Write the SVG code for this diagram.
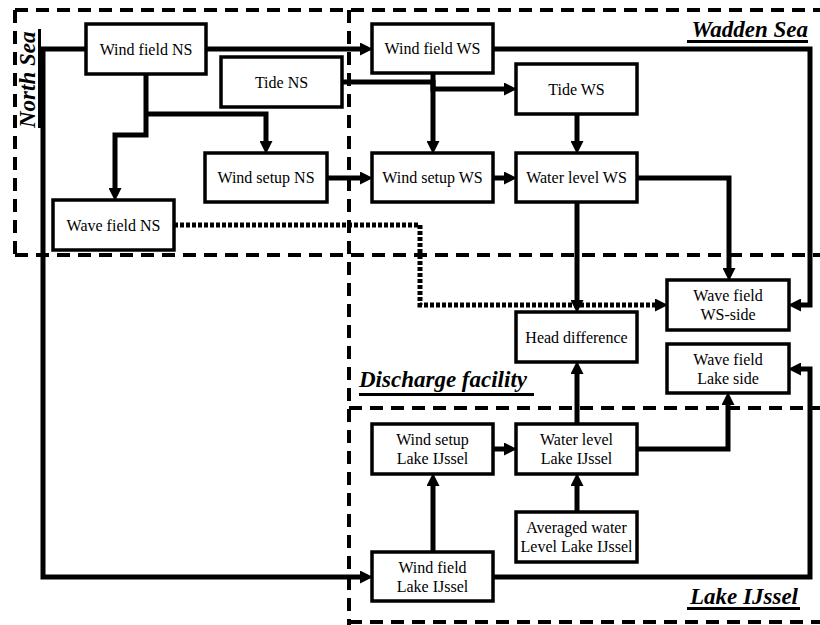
<svg xmlns="http://www.w3.org/2000/svg" width="820" height="625" viewBox="0 0 820 625">
<defs>
<marker id="arr" markerUnits="userSpaceOnUse" markerWidth="13" markerHeight="13" refX="2" refY="6.5" orient="auto">
<path d="M0,0 L13,6.5 L0,13 z" fill="#000"/>
</marker>
<style>
.region{fill:none;stroke:#000;stroke-width:4;stroke-dasharray:13,8}
.box{fill:#fff;stroke:#000;stroke-width:3.5}
.t{font-family:'Liberation Serif','DejaVu Serif',serif;font-size:16px;text-anchor:middle;fill:#000}
.lbl{font-family:'Liberation Serif','DejaVu Serif',serif;font-size:23px;font-weight:bold;font-style:italic;fill:#000}
.ul{stroke:#000;stroke-width:3}
.c{fill:none;stroke:#000;stroke-width:5;stroke-linejoin:miter}
.a{marker-end:url(#arr)}
.dot{stroke-dasharray:4,2}
</style>
</defs>
<rect width="820" height="625" fill="#fff"/>
<g id="regions">
<line class="region" x1="15" y1="10" x2="820" y2="10"/>
<line class="region" x1="15" y1="10" x2="15" y2="255"/>
<line class="region" x1="15" y1="255" x2="820" y2="255"/>
<line class="region" x1="349" y1="10" x2="349" y2="625"/>
<line class="region" x1="349" y1="408" x2="820" y2="408"/>
<line class="region" x1="349" y1="622" x2="820" y2="622"/>
</g>
<g id="labels">
<text class="lbl" transform="translate(35,128) rotate(-90)">North Sea</text>
<line class="ul" x1="39.5" y1="29" x2="39.5" y2="128"/>
<text class="lbl" x="808" y="37" text-anchor="end">Wadden Sea</text>
<line class="ul" x1="687" y1="41.5" x2="808" y2="41.5"/>
<text class="lbl" x="359" y="387">Discharge facility</text>
<line class="ul" x1="359" y1="394.5" x2="534" y2="394.5"/>
<text class="lbl" x="798" y="604" text-anchor="end">Lake IJssel</text>
<line class="ul" x1="687" y1="608.5" x2="800" y2="608.5"/>
</g>
<g id="connectors">
<path class="c a" d="M86,49 H43 V577 H362"/>
<path class="c a" d="M206,49 H362"/>
<path class="c a" d="M146,74 V135 H115 V190"/>
<path class="c a" d="M146,114 H266 V143"/>
<path class="c a" d="M342,82 H433 V89 H506"/>
<path class="c a" d="M433,73 V143"/>
<path class="c a" d="M493,49 H810 V305 H799"/>
<path class="c a" d="M577,114 V143"/>
<path class="c a" d="M327,178 H362"/>
<path class="c a" d="M493,178 H506"/>
<path class="c a" d="M637,178 H729 V270"/>
<path class="c a" d="M577,202 V302"/>
<path class="c a dot" d="M174,225 H420 V305 H657"/>
<path class="c a" d="M577,424 V372"/>
<path class="c a" d="M637,449 H728 V403"/>
<path class="c a" d="M493,449 H506"/>
<path class="c a" d="M433,552 V484"/>
<path class="c a" d="M577,512 V484"/>
<path class="c a" d="M493,577 H810 V369 H799"/>
</g>
<g id="wind-field-ns"><rect class="box" x="86" y="24" width="120" height="50"/><text class="t" x="146" y="54.5">Wind field NS</text></g>
<g id="tide-ns"><rect class="box" x="221" y="57" width="121" height="50"/><text class="t" x="281.5" y="87.5">Tide NS</text></g>
<g id="wind-setup-ns"><rect class="box" x="205" y="153" width="122" height="49"/><text class="t" x="266" y="183">Wind setup NS</text></g>
<g id="wave-field-ns"><rect class="box" x="53" y="200" width="121" height="50"/><text class="t" x="113.5" y="230.5">Wave field NS</text></g>
<g id="wind-field-ws"><rect class="box" x="372" y="24" width="121" height="49"/><text class="t" x="432.5" y="54">Wind field WS</text></g>
<g id="tide-ws"><rect class="box" x="516" y="64" width="121" height="50"/><text class="t" x="576.5" y="94.5">Tide WS</text></g>
<g id="wind-setup-ws"><rect class="box" x="372" y="153" width="121" height="49"/><text class="t" x="432.5" y="183">Wind setup WS</text></g>
<g id="water-level-ws"><rect class="box" x="516" y="153" width="121" height="49"/><text class="t" x="576.5" y="183">Water level WS</text></g>
<g id="wave-field-ws-side"><rect class="box" x="667" y="280" width="122" height="50"/><text class="t" x="728" y="301">Wave field</text><text class="t" x="728" y="320">WS-side</text></g>
<g id="head-difference"><rect class="box" x="516" y="312" width="121" height="50"/><text class="t" x="576.5" y="342.5">Head difference</text></g>
<g id="wave-field-lake-side"><rect class="box" x="667" y="344" width="122" height="49"/><text class="t" x="728" y="364.5">Wave field</text><text class="t" x="728" y="384">Lake side</text></g>
<g id="wind-setup-lake-ijssel"><rect class="box" x="372" y="424" width="121" height="50"/><text class="t" x="432.5" y="445">Wind setup</text><text class="t" x="432.5" y="464">Lake IJssel</text></g>
<g id="water-level-lake-ijssel"><rect class="box" x="516" y="424" width="121" height="50"/><text class="t" x="576.5" y="445">Water level</text><text class="t" x="576.5" y="464">Lake IJssel</text></g>
<g id="averaged-water-level"><rect class="box" x="516" y="512" width="121" height="50"/><text class="t" x="576.5" y="533">Averaged water</text><text class="t" x="576.5" y="552">Level Lake IJssel</text></g>
<g id="wind-field-lake-ijssel"><rect class="box" x="372" y="552" width="121" height="49"/><text class="t" x="432.5" y="572.5">Wind field</text><text class="t" x="432.5" y="591.5">Lake IJssel</text></g>
</svg>
